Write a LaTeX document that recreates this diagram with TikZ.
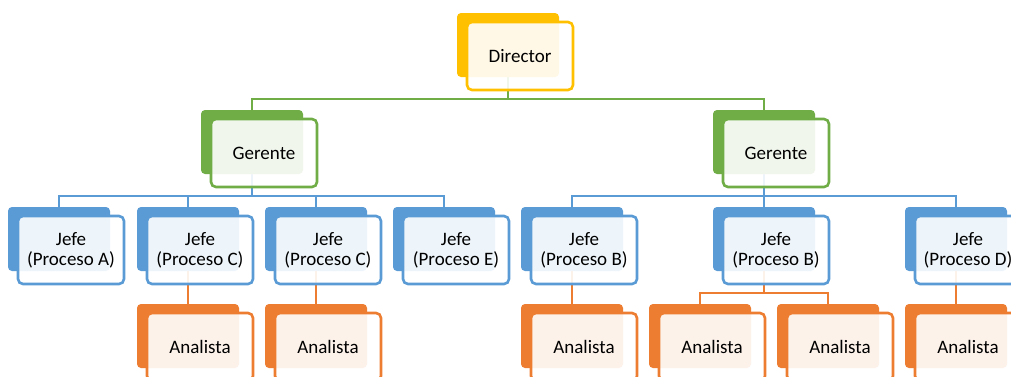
\documentclass[tikz,border=0pt]{standalone}
\usepackage{fontspec}
\setmainfont{Carlito}
\usetikzlibrary{backgrounds}
\definecolor{cyel}{HTML}{FFC000}
\definecolor{cgrn}{HTML}{70AD47}
\definecolor{cblu}{HTML}{5B9BD5}
\definecolor{corg}{HTML}{ED7D31}
\newcommand\obox[5]{%
  \node[backbox=#4] (#1b) at (#2,#3) {};
  \node[frontbox=#4] (#1) at (#2+10,#3+9) {#5};
}
\begin{document}
\begin{tikzpicture}[x=1pt,y=-1pt,
  backbox/.style={rectangle, rounded corners=4pt, minimum width=102pt, minimum height=64pt,
    inner sep=0pt, outer sep=0pt, anchor=north west, fill=#1},
  frontbox/.style={rectangle, rounded corners=5pt, minimum width=106pt, minimum height=68pt,
    inner sep=0pt, outer sep=0pt, anchor=north west, draw=#1, line width=2.6pt,
    fill=white, fill opacity=0.9, text opacity=1, draw opacity=1, align=center,
    font=\fontsize{19}{20}\selectfont},
  link/.style={line width=2.5pt, draw=#1}]
\path[use as bounding box, clip] (0,0) rectangle (1011,376);
% boxes
\obox{dir}{457}{13}{cyel}{Director}
\obox{gerL}{201}{110}{cgrn}{Gerente}
\obox{gerR}{713}{110}{cgrn}{Gerente}
\obox{jA}{8}{207}{cblu}{Jefe\\(Proceso A)}
\obox{jCa}{137}{207}{cblu}{Jefe\\(Proceso C)}
\obox{jCb}{265}{207}{cblu}{Jefe\\(Proceso C)}
\obox{jE}{393}{207}{cblu}{Jefe\\(Proceso E)}
\obox{jBa}{521}{207}{cblu}{Jefe\\(Proceso B)}
\obox{jBb}{713}{207}{cblu}{Jefe\\(Proceso B)}
\obox{jD}{905}{207}{cblu}{Jefe\\(Proceso D)}
\obox{anA}{137}{304}{corg}{Analista}
\obox{anB}{265}{304}{corg}{Analista}
\obox{anC}{521}{304}{corg}{Analista}
\obox{anD}{649}{304}{corg}{Analista}
\obox{anE}{777}{304}{corg}{Analista}
\obox{anF}{905}{304}{corg}{Analista}
% connectors
\begin{scope}[on background layer]
  \fill[white] (0,0) rectangle (1011,376);
  \draw[link=cgrn] (dirb.south) -- ++(0,22) -| (gerLb.north);
  \draw[link=cgrn] (dirb.south) -- ++(0,22) -| (gerRb.north);
  \foreach \j in {jA,jCa,jCb,jE}
    \draw[link=cblu] (gerLb.south) -- ++(0,22) -| (\j b.north);
  \foreach \j in {jBa,jBb,jD}
    \draw[link=cblu] (gerRb.south) -- ++(0,22) -| (\j b.north);
  \draw[link=corg] (jCab.south) -- (anAb.north);
  \draw[link=corg] (jCbb.south) -- (anBb.north);
  \draw[link=corg] (jBab.south) -- (anCb.north);
  \draw[link=corg] (jBbb.south) -- ++(0,22) -| (anDb.north);
  \draw[link=corg] (jBbb.south) -- ++(0,22) -| (anEb.north);
  \draw[link=corg] (jDb.south) -- (anFb.north);
\end{scope}
\end{tikzpicture}
\end{document}
